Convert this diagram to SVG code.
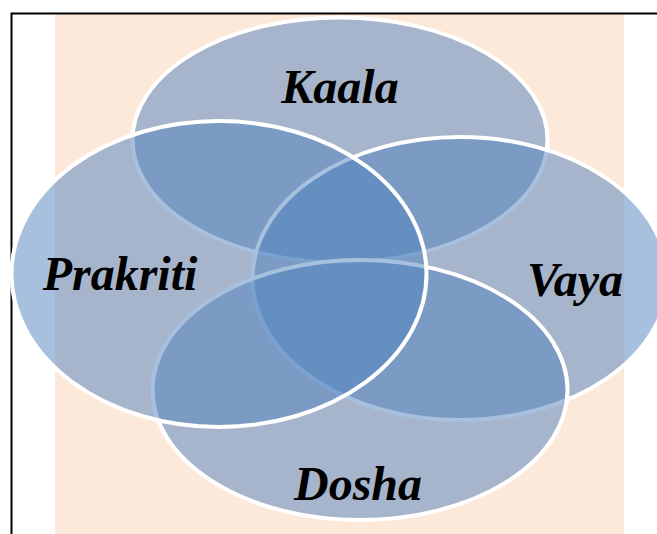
<svg xmlns="http://www.w3.org/2000/svg" width="657" height="534" viewBox="0 0 657 534">
<style>
.c{fill:#4F81BD;fill-opacity:0.5;stroke:#FFFFFF;stroke-width:4}
.t{font-family:"Liberation Serif","Times New Roman",serif;font-weight:bold;font-style:italic;font-size:48px;fill:#000;text-anchor:middle}
</style>
<rect x="0" y="0" width="657" height="534" fill="#FFFFFF"/>
<rect x="55" y="14" width="569" height="520" fill="#FDE9D9"/>
<path d="M11.5 534 V13.5 H657" fill="none" stroke="#000" stroke-width="2"/>
<g id="kaala"><ellipse class="c" cx="340" cy="140" rx="207.5" ry="122.5"/></g>
<g id="vaya"><ellipse class="c" cx="460" cy="278.5" rx="207.5" ry="141.5"/></g>
<g id="dosha"><ellipse class="c" cx="360" cy="390" rx="207.5" ry="130"/></g>
<g id="prakriti"><ellipse class="c" cx="219" cy="274" rx="207.5" ry="153"/></g>
<g id="labels">
<text class="t" x="340" y="103">Kaala</text>
<text class="t" x="120" y="290">Prakriti</text>
<text class="t" x="575" y="296">Vaya</text>
<text class="t" x="358" y="500">Dosha</text>
</g>
<g id="connectors"></g>
</svg>
